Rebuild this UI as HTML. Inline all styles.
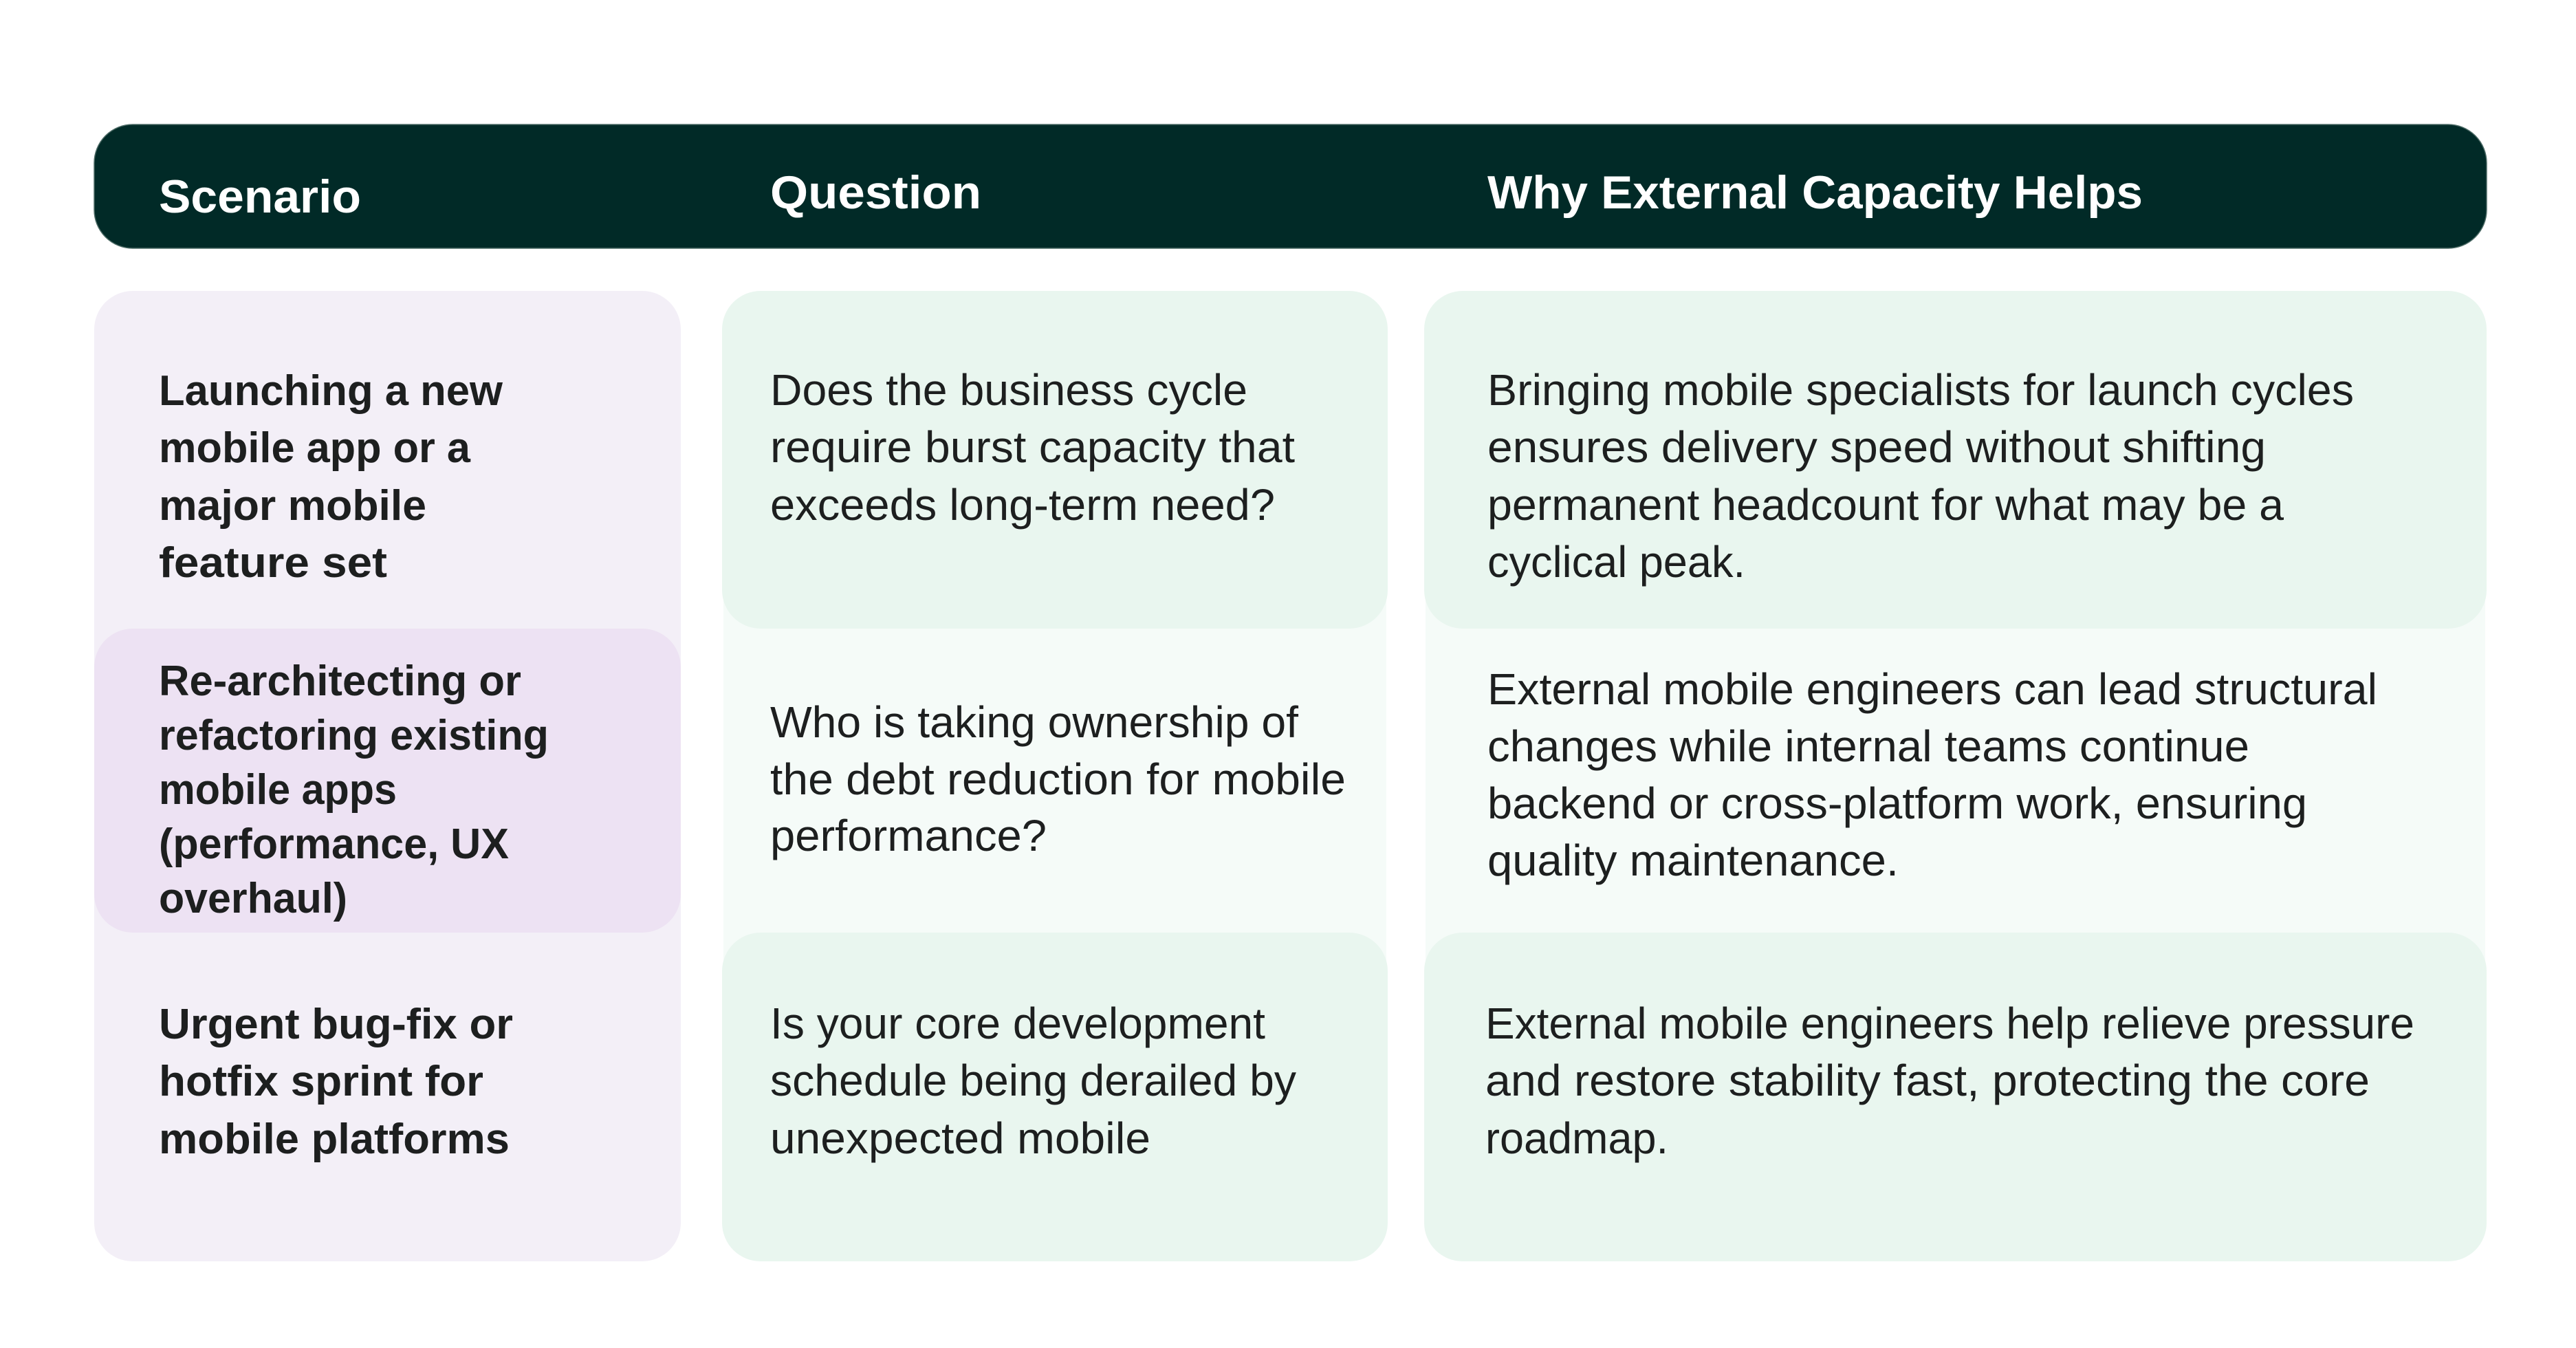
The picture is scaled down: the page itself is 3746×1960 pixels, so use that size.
<!DOCTYPE html>
<html><head><meta charset="utf-8"><title>External Capacity Scenarios</title>
<style>
html,body{margin:0;padding:0;background:#fff;width:3746px;height:1960px;overflow:hidden}
svg{display:block}
text{font-family:"Liberation Sans",sans-serif;font-size:64px;fill:#1d1f1f}
.b{font-weight:bold;font-size:62px}
.h{font-weight:bold;font-size:68px;fill:#fff}
</style></head><body>
<svg width="3746" height="1960" viewBox="0 0 3746 1960" xmlns="http://www.w3.org/2000/svg">
<rect x="137" y="181" width="3479" height="180" rx="56" fill="#012a27" stroke="#4d6b66" stroke-width="1.5"/>
<rect x="137" y="423" width="853" height="1411" rx="56" fill="#f3eff7"/>
<rect x="137" y="914" width="853" height="442" rx="56" fill="#ede2f3"/>
<rect x="1052" y="800" width="964" height="700" fill="#f5fbf8"/>
<rect x="2073" y="800" width="1541" height="700" fill="#f5fbf8"/>
<rect x="1050" y="423" width="968" height="491" rx="56" fill="#e9f6ef"/>
<rect x="2071" y="423" width="1545" height="491" rx="56" fill="#e9f6ef"/>
<rect x="1050" y="1356" width="968" height="478" rx="56" fill="#e9f6ef"/>
<rect x="2071" y="1356" width="1545" height="478" rx="56" fill="#e9f6ef"/>

<text class="h" x="231" y="309" textLength="294" lengthAdjust="spacingAndGlyphs">Scenario</text>
<text class="h" x="1120" y="303" textLength="307" lengthAdjust="spacingAndGlyphs">Question</text>
<text class="h" x="2163" y="303" textLength="953" lengthAdjust="spacingAndGlyphs">Why External Capacity Helps</text>

<text class="b" x="231" y="589" textLength="500" lengthAdjust="spacingAndGlyphs">Launching a new</text>
<text class="b" x="231" y="672" textLength="453" lengthAdjust="spacingAndGlyphs">mobile app or a</text>
<text class="b" x="231" y="756" textLength="389" lengthAdjust="spacingAndGlyphs">major mobile</text>
<text class="b" x="231" y="839" textLength="332" lengthAdjust="spacingAndGlyphs">feature set</text>
<text class="b" x="231" y="1011" textLength="527" lengthAdjust="spacingAndGlyphs">Re-architecting or</text>
<text class="b" x="231" y="1090" textLength="567" lengthAdjust="spacingAndGlyphs">refactoring existing</text>
<text class="b" x="231" y="1169" textLength="346" lengthAdjust="spacingAndGlyphs">mobile apps</text>
<text class="b" x="231" y="1248" textLength="509" lengthAdjust="spacingAndGlyphs">(performance, UX</text>
<text class="b" x="231" y="1327" textLength="274" lengthAdjust="spacingAndGlyphs">overhaul)</text>
<text class="b" x="231" y="1510" textLength="515" lengthAdjust="spacingAndGlyphs">Urgent bug-fix or</text>
<text class="b" x="231" y="1593" textLength="472" lengthAdjust="spacingAndGlyphs">hotfix sprint for</text>
<text class="b" x="231" y="1677" textLength="510" lengthAdjust="spacingAndGlyphs">mobile platforms</text>

<text x="1120" y="589" textLength="694" lengthAdjust="spacingAndGlyphs">Does the business cycle</text>
<text x="1120" y="672" textLength="763" lengthAdjust="spacingAndGlyphs">require burst capacity that</text>
<text x="1120" y="756" textLength="734" lengthAdjust="spacingAndGlyphs">exceeds long-term need?</text>
<text x="1120" y="1072" textLength="768" lengthAdjust="spacingAndGlyphs">Who is taking ownership of</text>
<text x="1120" y="1155" textLength="837" lengthAdjust="spacingAndGlyphs">the debt reduction for mobile</text>
<text x="1120" y="1237" textLength="402" lengthAdjust="spacingAndGlyphs">performance?</text>
<text x="1120" y="1510" textLength="720" lengthAdjust="spacingAndGlyphs">Is your core development</text>
<text x="1120" y="1593" textLength="765" lengthAdjust="spacingAndGlyphs">schedule being derailed by</text>
<text x="1120" y="1677" textLength="553" lengthAdjust="spacingAndGlyphs">unexpected mobile</text>

<text x="2163" y="589" textLength="1260" lengthAdjust="spacingAndGlyphs">Bringing mobile specialists for launch cycles</text>
<text x="2163" y="672" textLength="1132" lengthAdjust="spacingAndGlyphs">ensures delivery speed without shifting</text>
<text x="2163" y="756" textLength="1158" lengthAdjust="spacingAndGlyphs">permanent headcount for what may be a</text>
<text x="2163" y="839" textLength="375" lengthAdjust="spacingAndGlyphs">cyclical peak.</text>
<text x="2163" y="1024" textLength="1294" lengthAdjust="spacingAndGlyphs">External mobile engineers can lead structural</text>
<text x="2163" y="1107" textLength="1108" lengthAdjust="spacingAndGlyphs">changes while internal teams continue</text>
<text x="2163" y="1190" textLength="1192" lengthAdjust="spacingAndGlyphs">backend or cross-platform work, ensuring</text>
<text x="2163" y="1273" textLength="598" lengthAdjust="spacingAndGlyphs">quality maintenance.</text>
<text x="2160" y="1510" textLength="1351" lengthAdjust="spacingAndGlyphs">External mobile engineers help relieve pressure</text>
<text x="2160" y="1593" textLength="1286" lengthAdjust="spacingAndGlyphs">and restore stability fast, protecting the core</text>
<text x="2160" y="1677" textLength="266" lengthAdjust="spacingAndGlyphs">roadmap.</text>
</svg>
</body></html>
